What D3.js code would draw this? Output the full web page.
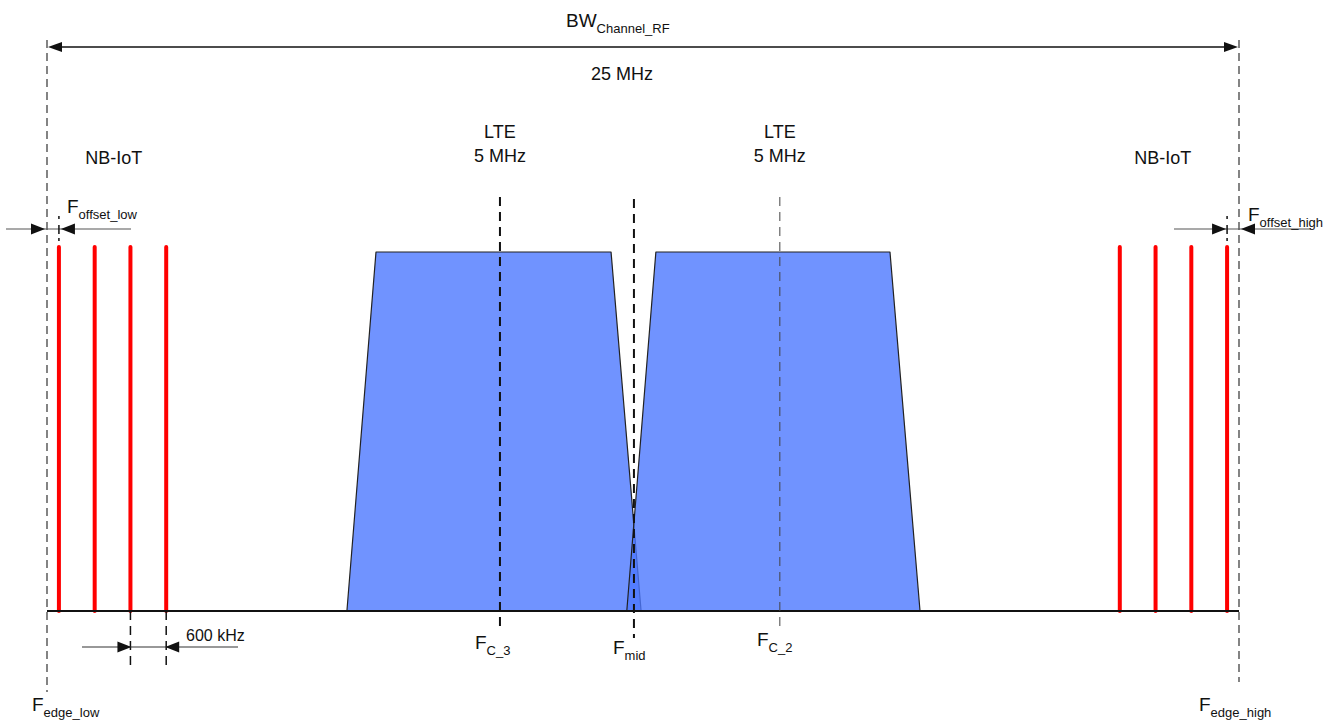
<!DOCTYPE html>
<html>
<head>
<meta charset="utf-8">
<script src="https://cdn.jsdelivr.net/npm/d3@7"></script>
<style>
  html, body { margin: 0; padding: 0; background: #fff; }
  svg { display: block; font-family: "Liberation Sans", Arial, sans-serif; }
</style>
</head>
<body>
<svg id="chart" width="1338" height="720"></svg>
<script>
// Channel layout, frequencies in MHz relative to the channel centre
const channelBW = 25;                              // total RF channel bandwidth
const nbIotLow  = [-12.25, -11.5, -10.75, -10.0];  // NB-IoT carriers at the low edge
const nbIotHigh = [10.0, 10.75, 11.5, 12.25];      // NB-IoT carriers at the high edge
const nbIotLevel = 1.014;
// LTE carriers: [bottom-left, top-left, top-right, bottom-right]
const lteNames   = ["LTE_3", "LTE_2"];
const lteEdges   = [[-6.21, -5.60, -0.67, -0.04], [-0.34, 0.27, 5.18, 5.81]];
const lteLevel   = 1.0;
const lteCentres = [-3.0, 2.87];                   // F_C_3, F_C_2
const fMid       = -0.19;
const lteLabel   = ["LTE", "5 MHz"];
const nbLabel    = "NB-IoT";
const spacingLabel = "600 kHz";

const svg = d3.select("#chart");
const x = d3.scaleLinear().domain([-channelBW / 2, channelBW / 2]).range([47, 1239]);
const y = d3.scaleLinear().domain([0, 1]).range([611, 252]);

const ink = "#111";

function arrowHead(g, tipX, tipY, dir, len, half) {
  // dir = +1 points right, -1 points left
  g.append("path")
    .attr("d", `M${tipX},${tipY} L${tipX - dir * len},${tipY - half} L${tipX - dir * len},${tipY + half} Z`)
    .attr("fill", ink);
}

function subText(g, tx, ty, main, sub, size, subSize, anchor) {
  const t = g.append("text").attr("x", tx).attr("y", ty)
    .attr("font-size", size).attr("fill", ink).attr("text-anchor", anchor || "start");
  t.append("tspan").text(main);
  t.append("tspan").attr("font-size", subSize).attr("dy", size * 0.3).text(sub);
  return t;
}

// Channel edges
const edges = [-channelBW / 2, channelBW / 2];
svg.append("g").selectAll("line").data(edges).join("line")
  .attr("x1", d => x(d)).attr("x2", d => x(d))
  .attr("y1", 40).attr("y2", (d, i) => i === 0 ? 692 : 682)
  .attr("stroke", "#333").attr("stroke-width", 1.2).attr("stroke-dasharray", "8,5");

// LTE carriers
const lteG = svg.append("g");
lteG.selectAll("path").data(lteEdges).join("path")
  .attr("d", e => d3.line()([[x(e[0]), y(0)], [x(e[1]), y(lteLevel)], [x(e[2]), y(lteLevel)], [x(e[3]), y(0)]]))
  .attr("fill", "rgb(76,120,255)").attr("fill-opacity", 0.8)
  .attr("stroke", "#222").attr("stroke-width", 1.2).attr("stroke-linejoin", "round");

// NB-IoT carriers
svg.append("g").selectAll("line").data(nbIotLow.concat(nbIotHigh)).join("line")
  .attr("x1", d => x(d)).attr("x2", d => x(d))
  .attr("y1", y(0)).attr("y2", y(nbIotLevel))
  .attr("stroke", "#ff0000").attr("stroke-width", 4).attr("stroke-linecap", "round");

// Baseline
svg.append("line").attr("x1", x(-channelBW / 2)).attr("x2", x(channelBW / 2))
  .attr("y1", y(0)).attr("y2", y(0)).attr("stroke", ink).attr("stroke-width", 2);

// Centre frequency markers
const markers = [
  { f: lteCentres[0], y1: 197, y2: 631, w: 2, c: "#111" },
  { f: fMid,          y1: 199, y2: 638, w: 2, c: "#111" },
  { f: lteCentres[1], y1: 197, y2: 628, w: 1, c: "#444" }
];
svg.append("g").selectAll("line").data(markers).join("line")
  .attr("x1", d => x(d.f)).attr("x2", d => x(d.f))
  .attr("y1", d => d.y1).attr("y2", d => d.y2)
  .attr("stroke", d => d.c).attr("stroke-width", d => d.w).attr("stroke-dasharray", "9,6");

// Channel bandwidth arrow
const bwG = svg.append("g");
bwG.append("line").attr("x1", x(-channelBW / 2) + 10).attr("x2", x(channelBW / 2) - 10)
  .attr("y1", 47).attr("y2", 47).attr("stroke", ink).attr("stroke-width", 1.3);
arrowHead(bwG, x(-channelBW / 2) + 1, 47, -1, 14, 5);
arrowHead(bwG, x(channelBW / 2) - 1, 47, 1, 14, 5);
subText(bwG, 566, 27, "BW", "Channel_RF", 19, 13);
bwG.append("text").attr("x", 622).attr("y", 80).attr("text-anchor", "middle")
  .attr("font-size", 18).attr("fill", ink).text(channelBW + " MHz");

// Carrier labels
lteCentres.forEach(c => {
  const t = svg.append("text").attr("text-anchor", "middle").attr("font-size", 18).attr("fill", ink);
  t.append("tspan").attr("x", x(c)).attr("y", 138).text(lteLabel[0]);
  t.append("tspan").attr("x", x(c)).attr("y", 162).text(lteLabel[1]);
});
[-11.1, 10.9].forEach(c => {
  svg.append("text").attr("x", x(c)).attr("y", 164).attr("text-anchor", "middle")
    .attr("font-size", 18).attr("fill", ink).text(nbLabel);
});

// Offset to the low edge
const offL = svg.append("g");
offL.append("line").attr("x1", 6).attr("x2", 131).attr("y1", 229).attr("y2", 229)
  .attr("stroke", "#555").attr("stroke-width", 1.2);
arrowHead(offL, x(-channelBW / 2) - 2, 229, 1, 14, 5.5);
arrowHead(offL, x(nbIotLow[0]) + 2, 229, -1, 14, 5.5);
offL.append("line").attr("x1", x(nbIotLow[0])).attr("x2", x(nbIotLow[0]))
  .attr("y1", 216).attr("y2", 247).attr("stroke", ink).attr("stroke-width", 1.5).attr("stroke-dasharray", "3,6,9,4");
subText(offL, 67, 213, "F", "offset_low", 19, 13);

// Offset to the high edge
const offH = svg.append("g");
offH.append("line").attr("x1", 1174).attr("x2", 1311).attr("y1", 229).attr("y2", 229)
  .attr("stroke", "#555").attr("stroke-width", 1.2);
arrowHead(offH, x(nbIotHigh[3]) - 1, 229, 1, 14, 5.5);
arrowHead(offH, x(channelBW / 2) + 2, 229, -1, 14, 5.5);
offH.append("line").attr("x1", x(nbIotHigh[3])).attr("x2", x(nbIotHigh[3]))
  .attr("y1", 216).attr("y2", 247).attr("stroke", ink).attr("stroke-width", 1.5).attr("stroke-dasharray", "3,6,9,4");
subText(offH, 1248, 221, "F", "offset_high", 19, 13);

// NB-IoT carrier spacing
const sp = svg.append("g");
[nbIotLow[2], nbIotLow[3]].forEach(f => {
  sp.append("line").attr("x1", x(f)).attr("x2", x(f)).attr("y1", y(0)).attr("y2", 671)
    .attr("stroke", ink).attr("stroke-width", 1.5).attr("stroke-dasharray", "9,6");
});
sp.append("line").attr("x1", 82).attr("x2", 238).attr("y1", 647).attr("y2", 647)
  .attr("stroke", "#333").attr("stroke-width", 1.1);
arrowHead(sp, x(nbIotLow[2]) + 1, 647, 1, 14, 5.5);
arrowHead(sp, x(nbIotLow[3]) - 1, 647, -1, 14, 5.5);
sp.append("text").attr("x", 186).attr("y", 641).attr("font-size", 16).attr("fill", ink).text(spacingLabel);

// Frequency names along the bottom
subText(svg, 475, 649, "F", "C_3", 19, 13);
subText(svg, 613, 654, "F", "mid", 19, 13);
subText(svg, 757, 646, "F", "C_2", 19, 13);
subText(svg, 32, 711, "F", "edge_low", 19, 13);
subText(svg, 1199, 711, "F", "edge_high", 19, 13);
</script>
</body>
</html>
